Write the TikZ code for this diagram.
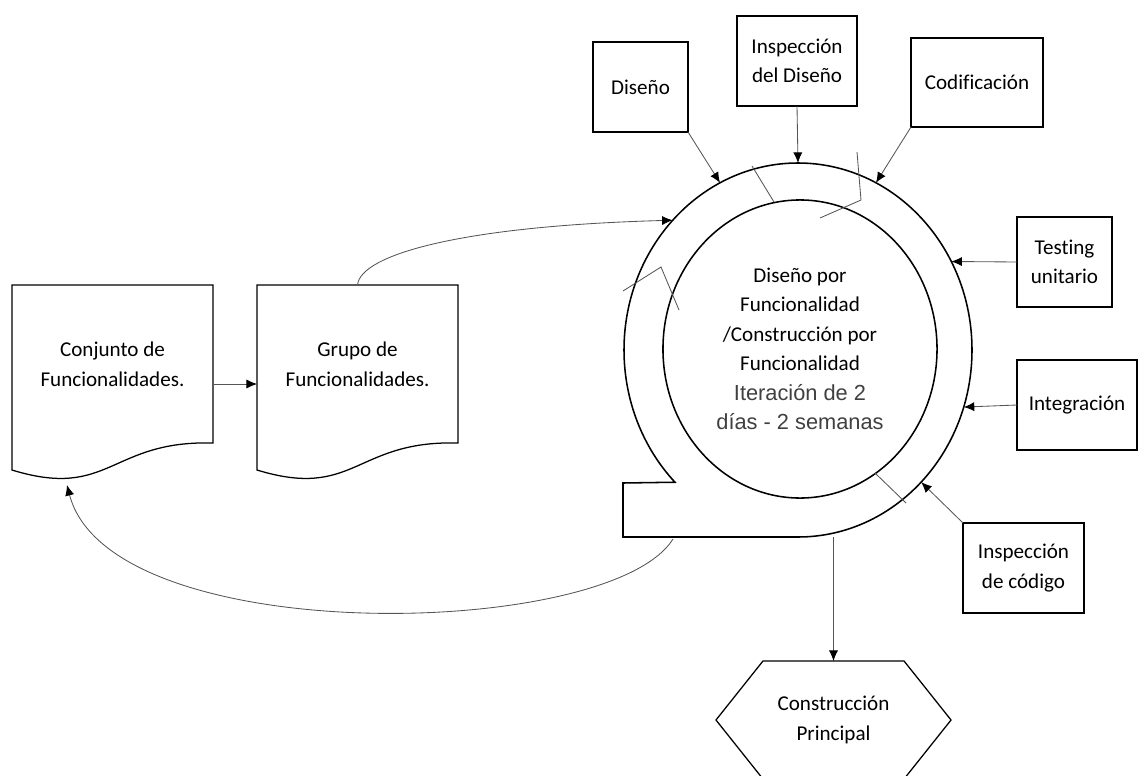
\documentclass[tikz,border=0pt]{standalone}
\usepackage{fontspec}
\setmainfont{Carlito}[Ligatures=NoCommon]
\newfontfamily\arialfont{Liberation Sans}
\usepackage{xcolor}
\usepackage{tikz}
\usetikzlibrary{shapes.geometric, arrows.meta, positioning}

\definecolor{gristexto}{HTML}{404040}
\definecolor{grislinea}{HTML}{555555}

\newcommand{\textoarial}[1]{{\arialfont\fontsize{15.5}{22}\selectfont\color{gristexto}#1}}
\newcommand{\contornohoja}[1]{%
  \draw[contorno] (#1.north west) -- (#1.north east) -- (#1.south east)
    .. controls ([xshift=-2.575cm,yshift=0.075cm]#1.south east)
    and ([xshift=2.45cm,yshift=-1.425cm]#1.south west)
    .. ([yshift=-0.675cm]#1.south west) -- cycle;}

\begin{document}
\begin{tikzpicture}[
    x=0.025cm, y=-0.025cm,
    caja/.style={rectangle, draw, line width=0.9pt, inner sep=0pt, outer sep=0pt, align=center, font=\fontsize{15}{21}\selectfont},
    hoja/.style={rectangle, inner sep=0pt, outer sep=0pt, minimum width=5.025cm, minimum height=3.95cm, align=center, font=\fontsize{15}{21}\selectfont},
    contorno/.style={line width=0.9pt},
    flecha/.style={-{Latex[length=7.5pt,width=6.5pt,black]}, line width=0.6pt, draw=grislinea},
    marca/.style={line width=0.6pt, draw=grislinea}
]
\useasboundingbox (0,0) rectangle (1138,776);

% aro con cola
\draw[contorno, line width=1.1pt] (798,537) arc[start angle=90, end angle=-225, x radius=174, y radius=187]
  -- (623,483) -- (623,537) -- cycle;
\node[ellipse, minimum width=8.7cm, minimum height=9.35cm, inner sep=0pt, outer sep=0pt] (anillo) at (798,350) {};
\node[ellipse, draw, line width=1.1pt, minimum width=6.85cm, minimum height=7.45cm, inner sep=0pt, align=center, font=\fontsize{15}{21}\selectfont] (ciclo) at (800,349)
  {Diseño por\\Funcionalidad\\/Construcción por\\Funcionalidad\\\textoarial{Iteración de 2}\\\textoarial{días - 2 semanas}};

% marcas del aro
\draw[marca] (752,166) -- (774,202);
\draw[marca] (857,152) -- (861,200) -- (820,218);
\draw[marca] (623,291) -- (661,267) -- (679,310);
\draw[marca] (875,473) -- (906,503);

% actividades
\node[caja, minimum width=2.375cm, minimum height=2.25cm] (diseno) at (640.5,87) {Diseño};
\node[caja, minimum width=3cm, minimum height=2.25cm] (inspdis) at (797,61) {Inspección\\del Diseño};
\node[caja, minimum width=3.3cm, minimum height=2.225cm] (codif) at (977,82.5) {Codificación};
\node[caja, minimum width=2.375cm, minimum height=2.25cm] (testing) at (1064.5,262) {Testing\\unitario};
\node[caja, minimum width=3cm, minimum height=2.25cm] (integ) at (1077,405) {Integración};
\node[caja, minimum width=3.025cm, minimum height=2.25cm] (inspcod) at (1023.5,568) {Inspección\\de código};

% construccion principal
\node[rectangle, inner sep=0pt, outer sep=0pt, minimum width=5.875cm, minimum height=2.95cm, align=center, font=\fontsize{15}{21}\selectfont] (constr) at (833.5,720) {Construcción\\Principal};
\draw[contorno] ([xshift=1.175cm]constr.north west) -- ([xshift=-1.175cm]constr.north east) -- (constr.east)
  -- ([xshift=-1.175cm]constr.south east) -- ([xshift=1.175cm]constr.south west) -- (constr.west) -- cycle;

% documentos
\node[hoja] (conj) at (112.5,364) {Conjunto de\\Funcionalidades.};
\node[hoja, right=1.1cm of conj] (grupo) {Grupo de\\Funcionalidades.};
\contornohoja{conj}
\contornohoja{grupo}

\coordinate (cola) at (673,539);
\coordinate (base) at (833.5,537);

\draw[flecha] ([yshift=-0.5cm]conj.east) -- ([yshift=-0.5cm]grupo.west);
\draw[flecha] (grupo.north) .. controls (360,255) and (460,226) .. (anillo.134);
\draw[flecha] (cola) .. controls (610,640) and (110,650) .. ([xshift=-1.1375cm,yshift=-1.05cm]conj.south);
\draw[flecha] (diseno.south east) -- (anillo.115);
\draw[flecha] (inspdis.south) -- (anillo.north);
\draw[flecha] (codif.south west) -- (anillo.65);
\draw[flecha] (testing.west) -- (anillo.30);
\draw[flecha] (integ.west) -- (anillo.-19);
\draw[flecha] (inspcod.north west) -- (anillo.-47);
\draw[flecha] (base) -- (constr.north);

\end{tikzpicture}
\end{document}
